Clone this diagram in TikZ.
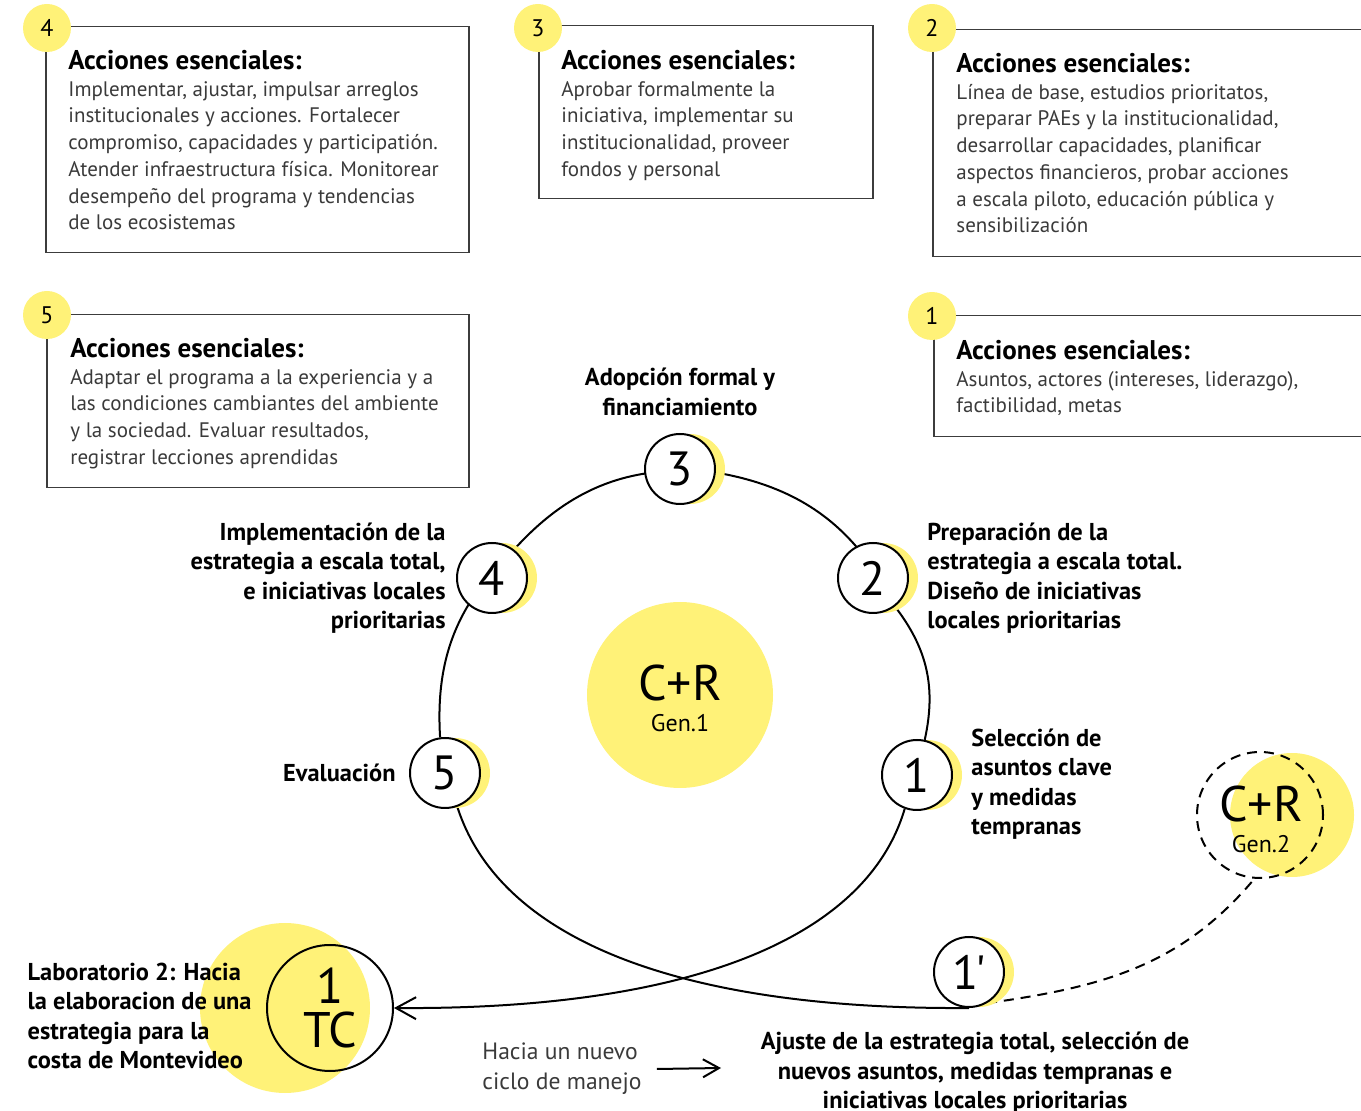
\documentclass[tikz,border=0pt]{standalone}
\usepackage{fontspec}
\setmainfont{PT Sans}
\usepackage{xcolor}
\usepackage{tikz}
\usetikzlibrary{arrows.meta, positioning, backgrounds}
\definecolor{cryellow}{HTML}{FFF278}
\definecolor{boxline}{HTML}{3C3C3C}
\definecolor{bodygray}{HTML}{3A3A3A}
\pgfdeclarelayer{ringlayer}
\pgfsetlayers{ringlayer,background,main}
\newcommand{\acctitle}{{\color{black}\bfseries\fontsize{13.5}{13.35}\selectfont Acciones esenciales:}}

\begin{document}
\begin{tikzpicture}[
  x=0.5pt, y=-0.5pt,
  actbox/.style={rectangle, draw=boxline, line width=0.75pt, anchor=north west, inner sep=0pt},
  acttext/.style={anchor=north west, align=left, inner sep=0pt, text=bodygray,
    font=\fontsize{10.5}{13.35}\selectfont},
  badge/.style={circle, fill=cryellow, minimum size=24pt, inner sep=0pt, font=\fontsize{12}{12}\selectfont},
  stage/.style={circle, draw=black, fill=white, line width=1pt, minimum size=35pt,
    inner sep=0pt, font=\fontsize{24}{24}\selectfont},
  stagelbl/.style={inner sep=0pt, font=\bfseries\fontsize{12.2}{14.75}\selectfont},
  crbig/.style={circle, fill=cryellow, minimum size=93pt, inner sep=0pt},
  crtext/.style={inner sep=0pt, font=\fontsize{25}{25}\selectfont},
  gentext/.style={inner sep=0pt, font=\fontsize{12}{12}\selectfont},
  tcnode/.style={circle, draw=black, line width=1pt, minimum size=63pt, inner sep=0pt,
    align=center, font=\fontsize{25}{22}\selectfont},
  hacialbl/.style={inner sep=0pt, align=left, text=bodygray, font=\fontsize{11.8}{15}\selectfont},
  ringline/.style={line width=1pt, draw=black},
  dashline/.style={line width=1pt, draw=black, dash pattern=on 5pt off 3.5pt},
  barb/.style={-{Straight Barb[length=10pt,width=11pt]}, line width=1pt},
  barbsmall/.style={-{Straight Barb[length=8pt,width=9pt]}, line width=1pt}
]
\useasboundingbox (0,0) rectangle (1361,1111);

% cajas de acciones esenciales
\node[actbox, minimum width=211.5pt, minimum height=113pt] (b4) at (45,26) {};
\node[acttext] (t4) at (68,50)
  {\acctitle\\Implementar, ajustar, impulsar arreglos\\institucionales y acciones. Fortalecer\\compromiso, capacidades y participatión.\\Atender infraestructura física. Monitorear\\desempeño del programa y tendencias\\de los ecosistemas};
\node[actbox, minimum width=167pt, minimum height=86.5pt] (b3) at (538,25) {};
\node[acttext] (t3) at (561,50)
  {\acctitle\\Aprobar formalmente la\\iniciativa, implementar su\\institucionalidad, proveer\\fondos y personal};
\node[actbox, minimum width=224pt, minimum height=113.5pt] (b2) at (932,29) {};
\node[acttext] (t2) at (956,53)
  {\acctitle\\Línea de base, estudios prioritatos,\\preparar PAEs y la institucionalidad,\\desarrollar capacidades, planificar\\aspectos financieros, probar acciones\\a escala piloto, educación pública y\\sensibilización};
\node[actbox, minimum width=211pt, minimum height=86.5pt] (b5) at (46,314) {};
\node[acttext] (t5) at (70,338)
  {\acctitle\\Adaptar el programa a la experiencia y a\\las condiciones cambiantes del ambiente\\y la sociedad. Evaluar resultados,\\registrar lecciones aprendidas};
\node[actbox, minimum width=224pt, minimum height=60.5pt] (b1) at (933,315) {};
\node[acttext] (t1) at (956,340)
  {\acctitle\\Asuntos, actores (intereses, liderazgo),\\factibilidad, metas};
\node[badge] (k4) at (47,28) {4};
\node[badge] (k3) at (538,28) {3};
\node[badge] (k2) at (932,28) {2};
\node[badge] (k5) at (47,315) {5};
\node[badge] (k1) at (932,316) {1};

% ciclo
\node[crbig] (cr1) at (680,695) {};
\node[crtext] (cr1t) at (680,683) {C+R};
\node[gentext] (cr1g) at (680,723) {Gen.1};
\node[stage] (s1) at (917,775) {1};
\node[stage] (s2) at (873,578) {2};
\node[stage] (s3) at (680,469) {3};
\node[stage] (s4) at (492,578) {4};
\node[stage] (s5) at (445,773) {5};
\node[stage] (s1b) at (969,972) {1\kern-1.5pt\textquotesingle};
\begin{scope}[on background layer]
  \foreach \s in {s1,s2,s3,s4,s5,s1b}
    \fill[cryellow] ([xshift=5pt]\s.center) circle[radius=17.5pt];
  \fill[cryellow] (285,1008) circle[radius=42.5pt];
  \fill[cryellow] (1292,815) circle[radius=31pt];
\end{scope}

\node[stagelbl, align=center, above=8.5pt of s3] (l3) {Adopción formal y\\financiamiento};
\node[stagelbl, align=left, right=9pt of s2] (l2)
  {Preparación de la\\estrategia a escala total.\\Diseño de iniciativas\\locales prioritarias};
\node[stagelbl, align=right, left=5pt of s4] (l4)
  {Implementación de la\\estrategia a escala total,\\e iniciativas locales\\prioritarias};
\node[stagelbl, left=6.5pt of s5] (l5) {Evaluación};
\node[stagelbl, align=left, right=9pt of s1, yshift=-4.5pt] (l1)
  {Selección de\\asuntos clave\\y medidas\\tempranas};

% tramo costero y nueva generacion
\node[tcnode] (tc) at (330,1008) {1\\TC};
\node[stagelbl, align=left, left=7pt of tc, yshift=-4pt] (lab)
  {Laboratorio 2: Hacia\\la elaboracion de una\\estrategia para la\\costa de Montevideo};
\node[circle, draw=black, dashline, minimum size=63pt, inner sep=0pt] (gen2) at (1260,815) {};
\node[crtext] (cr2t) at (1261,804) {C+R};
\node[gentext] (cr2g) at (1261,844) {Gen.2};
\node[stagelbl, align=center, below=12pt of s1b, xshift=3pt] (aj)
  {Ajuste de la estrategia total, selección de\\nuevos asuntos, medidas tempranas e\\iniciativas locales prioritarias};
\node[hacialbl, anchor=west] (hacia) at (482,1069) {Hacia un nuevo\\ciclo de manejo};
\coordinate (ajE) at (721,1068);

\begin{pgfonlayer}{ringlayer}
\draw[ringline] (s1) to[bend right=25] (s2) to[bend right=27] (s3)
  to[bend right=27] (s4) to[bend right=25] (s5);
\draw[ringline] (s5.-70) .. controls (500,940) and (680,1010) .. (s1b.south);
\draw[ringline, barb] (s1.-110) .. controls (866,940) and (686,1010) .. (tc.east);
\draw[dashline] (s1b.-60) to[out=8, in=-130] (gen2.-95);
\end{pgfonlayer}
\draw[barbsmall] ([xshift=7.5pt]hacia.east) -- (ajE);
\end{tikzpicture}
\end{document}
